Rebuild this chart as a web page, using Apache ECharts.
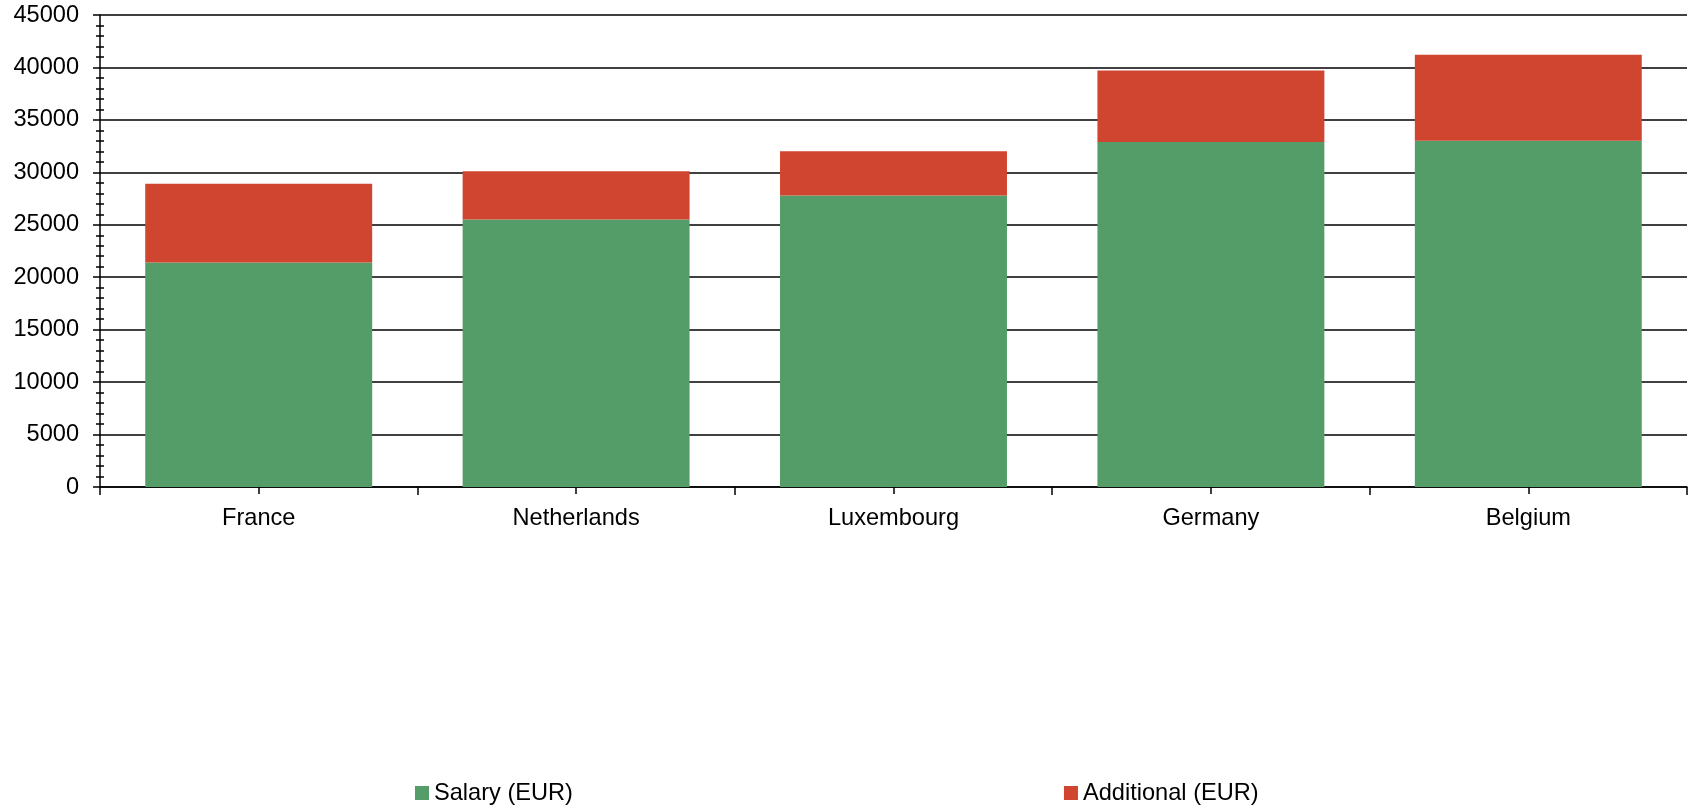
<!DOCTYPE html>
<html>
<head>
<meta charset="utf-8">
<script src="https://cdn.jsdelivr.net/npm/echarts@6/dist/echarts.min.js"></script>
<style>
html,body{margin:0;padding:0;background:#fff;}
#chart{width:1695px;height:805px;}
</style>
</head>
<body>
<div id="chart"></div>
<script>
const categories = ['France', 'Netherlands', 'Luxembourg', 'Germany', 'Belgium'];
const salary = [21400, 25500, 27800, 32900, 33000];
const additional = [7500, 4600, 4200, 6800, 8200];
const seriesNames = ['Salary (EUR)', 'Additional (EUR)'];
const yTicks = { min: 0, max: 45000, interval: 5000 };

const FONT = "'Liberation Sans', Arial, sans-serif";
const FS = 23.6;
const chart = echarts.init(document.getElementById('chart'), null, { renderer: 'canvas' });

const option = {
  animation: false,
  backgroundColor: '#ffffff',
  textStyle: { fontFamily: FONT, color: '#000' },
  grid: { left: 100, right: 8, top: 15, bottom: 318, containLabel: false },
  legend: {
    data: seriesNames,
    left: 410,
    top: 776,
    itemWidth: 14,
    itemHeight: 14,
    itemGap: 491,
    icon: 'rect',
    textStyle: { fontFamily: FONT, fontSize: FS, color: '#000' }
  },
  xAxis: [
    {
      type: 'category',
      data: categories,
      axisLine: { show: true, lineStyle: { color: '#000', width: 1.5 } },
      axisTick: { show: true, length: 8, lineStyle: { color: '#000', width: 1.5 } },
      axisLabel: { margin: 19, fontSize: FS, color: '#000', fontFamily: FONT },
      splitLine: { show: false }
    },
    {
      type: 'category',
      data: categories,
      position: 'bottom',
      offset: -7,
      axisLine: { show: false },
      axisTick: { show: true, alignWithLabel: true, length: 14, lineStyle: { color: '#000', width: 1.5 } },
      axisLabel: { show: false },
      splitLine: { show: false }
    }
  ],
  yAxis: [
    {
      type: 'value',
      min: yTicks.min,
      max: yTicks.max,
      interval: yTicks.interval,
      axisLine: { show: true, lineStyle: { color: '#000', width: 1.5 } },
      axisTick: { show: true, length: 7, lineStyle: { color: '#000', width: 1.5 } },
      minorTick: { show: true, splitNumber: 5, length: 4, lineStyle: { color: '#000', width: 1.5 } },
      axisLabel: { margin: 21, fontSize: FS, color: '#000', fontFamily: FONT, padding: [4, 0, 0, 0], formatter: function (v) { return String(v); } },
      splitLine: { show: true, lineStyle: { color: '#000', width: 1.5 } }
    },
    {
      type: 'value',
      min: yTicks.min,
      max: yTicks.max,
      interval: yTicks.interval,
      position: 'left',
      axisLine: { show: false },
      axisTick: { show: false, inside: true },
      minorTick: { show: true, splitNumber: 5, length: 4, lineStyle: { color: '#000', width: 1.5 } },
      axisLabel: { show: false },
      splitLine: { show: false }
    }
  ],
  series: [
    {
      name: seriesNames[0],
      type: 'bar',
      stack: 'total',
      data: salary,
      barCategoryGap: '28.5%',
      itemStyle: { color: '#559D68' }
    },
    {
      name: seriesNames[1],
      type: 'bar',
      stack: 'total',
      data: additional,
      barCategoryGap: '28.5%',
      itemStyle: { color: '#CF452F' }
    }
  ]
};
chart.setOption(option);
</script>
</body>
</html>
